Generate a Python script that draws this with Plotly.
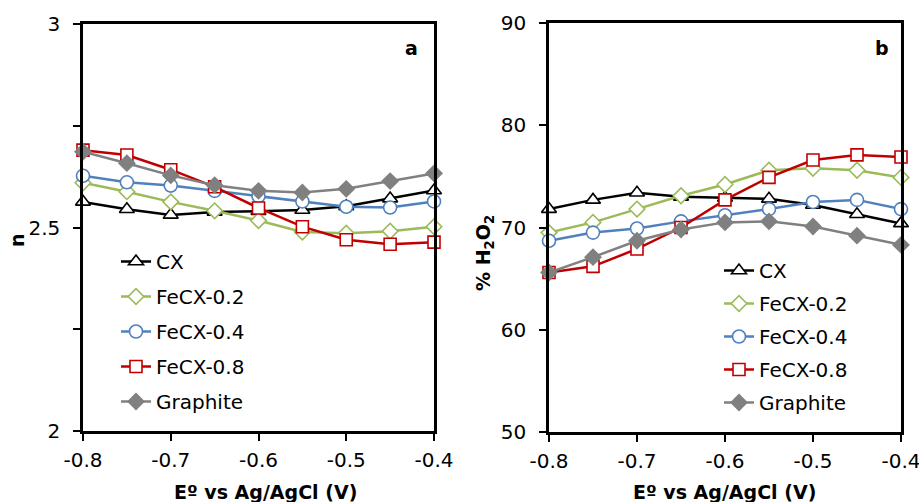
import plotly.graph_objects as go

# Electrode potential (V vs Ag/AgCl)
potential = [-0.80, -0.75, -0.70, -0.65, -0.60, -0.55, -0.50, -0.45, -0.40]

# Panel a: number of electrons transferred, n
n_cx = [2.563, 2.545, 2.531, 2.538, 2.540, 2.543, 2.552, 2.571, 2.591]
n_fecx_02 = [2.610, 2.588, 2.563, 2.541, 2.517, 2.489, 2.486, 2.491, 2.502]
n_fecx_04 = [2.627, 2.611, 2.603, 2.590, 2.577, 2.564, 2.551, 2.549, 2.564]
n_fecx_08 = [2.690, 2.678, 2.642, 2.600, 2.548, 2.502, 2.470, 2.459, 2.464]
n_graphite = [2.686, 2.658, 2.628, 2.604, 2.590, 2.586, 2.595, 2.614, 2.633]

# Panel b: H2O2 selectivity (%)
h2o2_cx = [71.8, 72.7, 73.4, 73.0, 72.9, 72.8, 72.2, 71.3, 70.4]
h2o2_fecx_02 = [69.5, 70.5, 71.8, 73.1, 74.2, 75.6, 75.8, 75.6, 74.9]
h2o2_fecx_04 = [68.7, 69.5, 69.9, 70.6, 71.2, 71.8, 72.5, 72.7, 71.8]
h2o2_fecx_08 = [65.6, 66.2, 67.9, 70.0, 72.7, 74.9, 76.6, 77.1, 76.9]
h2o2_graphite = [65.6, 67.1, 68.7, 69.8, 70.5, 70.6, 70.1, 69.2, 68.3]

series_names = ["CX", "FeCX-0.2", "FeCX-0.4", "FeCX-0.8", "Graphite"]

x_tick_vals = [-0.8, -0.7, -0.6, -0.5, -0.4]
x_tick_text = ["-0.8", "-0.7", "-0.6", "-0.5", "-0.4"]
n_tick_vals = [2.0, 2.5, 3.0]
n_tick_text = ["2", "2.5", "3"]
n_minor_vals = [2.25, 2.75]
h2o2_tick_vals = [50, 60, 70, 80, 90]
h2o2_tick_text = ["50", "60", "70", "80", "90"]

W, H = 919, 502
FONT = "DejaVu Sans"

# style per series: (line colour, marker symbol, marker fill, marker size)
styles = {
    "CX": ("#000000", "triangle-up", "#ffffff", 13),
    "FeCX-0.2": ("#9BBB59", "diamond", "#ffffff", 12),
    "FeCX-0.4": ("#4F81BD", "circle", "#ffffff", 13),
    "FeCX-0.8": ("#C00000", "square", "#ffffff", 12),
    "Graphite": ("#808080", "diamond", "#808080", 12),
}


def px_x(p):
    return p / W


def px_y(p):
    return 1 - p / H


fig = go.Figure()

panel_a = [n_cx, n_fecx_02, n_fecx_04, n_fecx_08, n_graphite]
panel_b = [h2o2_cx, h2o2_fecx_02, h2o2_fecx_04, h2o2_fecx_08, h2o2_graphite]

for name, ys in zip(series_names, panel_a):
    color, symbol, fill, size = styles[name]
    fig.add_trace(go.Scatter(
        x=potential, y=ys, name=name, mode="lines+markers", cliponaxis=False,
        line=dict(color=color, width=2.5),
        marker=dict(symbol=symbol, size=size, color=fill,
                    line=dict(color=color, width=1.6)),
        xaxis="x", yaxis="y", legend="legend", legendgroup="a-" + name,
    ))

for name, ys in zip(series_names, panel_b):
    color, symbol, fill, size = styles[name]
    fig.add_trace(go.Scatter(
        x=potential, y=ys, name=name, mode="lines+markers", cliponaxis=False,
        line=dict(color=color, width=2.5),
        marker=dict(symbol=symbol, size=size, color=fill,
                    line=dict(color=color, width=1.6)),
        xaxis="x2", yaxis="y2", legend="legend2", legendgroup="b-" + name,
    ))

axis_common = dict(
    showline=True, linecolor="black", linewidth=2.5, mirror=True,
    ticks="outside", ticklen=7, tickwidth=2, tickcolor="black",
    showgrid=False, zeroline=False, automargin=False,
    ticklabeloverflow="allow",
    tickfont=dict(family=FONT, size=20, color="black"),
)

fig.update_layout(
    width=W, height=H,
    margin=dict(l=0, r=0, t=0, b=0, autoexpand=False),
    paper_bgcolor="white", plot_bgcolor="white",
    font=dict(family=FONT, color="black"),
    xaxis=dict(domain=[px_x(83), px_x(434)], range=[-0.8, -0.4],
               tickvals=x_tick_vals, ticktext=x_tick_text, anchor="y",
               ticklabelstandoff=2, **axis_common),
    yaxis=dict(domain=[px_y(431), px_y(24)], range=[2, 3],
               tickvals=n_tick_vals, ticktext=n_tick_text, anchor="x",
               ticklabelstandoff=9,
               minor=dict(tickvals=n_minor_vals, ticks="outside", ticklen=7,
                          tickwidth=2, tickcolor="black", showgrid=False),
               **axis_common),
    xaxis2=dict(domain=[px_x(549), px_x(901)], range=[-0.8, -0.4],
                tickvals=x_tick_vals, ticktext=x_tick_text, anchor="y2",
                ticklabelstandoff=2, **axis_common),
    yaxis2=dict(domain=[px_y(432), px_y(23)], range=[50, 90],
                tickvals=h2o2_tick_vals, ticktext=h2o2_tick_text, anchor="x2",
                ticklabelstandoff=9, **axis_common),
    legend=dict(x=px_x(116), y=px_y(242), xanchor="left", yanchor="top",
                bgcolor="rgba(0,0,0,0)", font=dict(family=FONT, size=20),
                tracegroupgap=6, itemclick=False),
    legend2=dict(x=px_x(719), y=px_y(251), xanchor="left", yanchor="top",
                 bgcolor="rgba(0,0,0,0)", font=dict(family=FONT, size=20),
                 tracegroupgap=4, itemclick=False),
    showlegend=True,
)

annotations = [
    dict(text="<b>a</b>", x=px_x(411), y=px_y(48)),
    dict(text="<b>b</b>", x=px_x(882), y=px_y(48)),
    dict(text="<b>Eº vs Ag/AgCl (V)</b>", x=px_x(265), y=px_y(492)),
    dict(text="<b>Eº vs Ag/AgCl (V)</b>", x=px_x(724), y=px_y(492)),
    dict(text="<b>n</b>", x=px_x(17), y=px_y(240), textangle=-90),
    dict(text="<b>% H<sub>2</sub>O<sub>2</sub></b>", x=px_x(484), y=px_y(253),
         textangle=-90),
]
for a in annotations:
    fig.add_annotation(xref="paper", yref="paper", showarrow=False,
                       xanchor="center", yanchor="middle",
                       font=dict(family=FONT, size=19, color="black"), **a)

fig.write_html("out.html")
